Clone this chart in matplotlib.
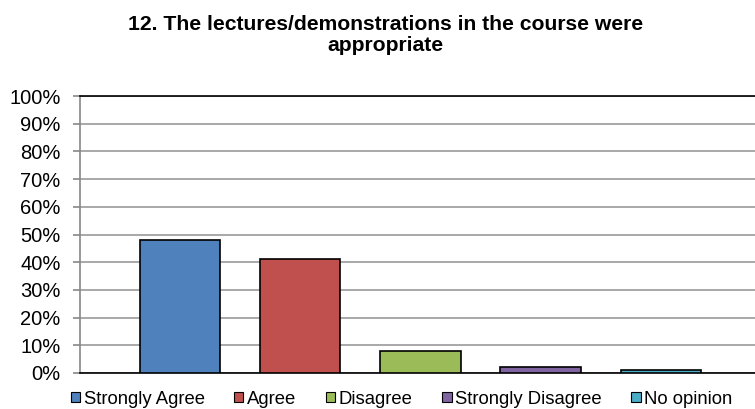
import numpy as np
import matplotlib.pyplot as plt
from matplotlib.patches import Patch

plt.rcParams['font.family'] = ['Liberation Sans', 'DejaVu Sans']

categories = ['Strongly Agree', 'Agree', 'Disagree', 'Strongly Disagree', 'No opinion']
values = [48, 41, 8, 2, 1]
colors = ['#4F81BD', '#C0504D', '#9BBB59', '#8064A2', '#4BACC6']
yticks = np.arange(0, 101, 10)

fig = plt.figure(figsize=(7.55, 4.09), dpi=100)
ax = fig.add_axes([80/755, 1 - 373/409, 676/755, 277/409])

x = np.arange(len(categories))
ax.bar(x, values, width=0.67, color=colors, edgecolor='black', linewidth=1.2, zorder=3)

ax.set_xlim(-0.83, 4.79)
ax.set_ylim(0, 100)
ax.set_yticks(yticks)
ax.set_yticklabels([f'{v}%' for v in yticks], fontsize=14.5)
ax.set_xticks([])
ax.yaxis.grid(True, color='#999999', linewidth=1.2, zorder=0)
ax.tick_params(axis='y', length=5, width=1.2, color='#888888', pad=9)

ax.spines['left'].set_color('#888888')
ax.spines['left'].set_linewidth(1.2)
ax.spines['bottom'].set_color('black')
ax.spines['bottom'].set_linewidth(1.2)
ax.spines['right'].set_visible(False)
ax.spines['top'].set_color('black')
ax.spines['top'].set_linewidth(1.2)

fig.text(0.511, 1 - 35/409, '12. The lectures/demonstrations in the course were\nappropriate',
         ha='center', va='center', fontsize=15.2, fontweight='bold', linespacing=1.1)

handles = [Patch(facecolor=c, edgecolor='black', linewidth=0.8) for c in colors]
fig.legend(handles, categories, loc='center', bbox_to_anchor=(0.532, 1 - 399/409),
           ncol=5, frameon=False, fontsize=13.3, handlelength=0.5, handleheight=0.5,
           handletextpad=0.2, columnspacing=1.6, borderpad=0)

fig.savefig('out.png', dpi=100)
